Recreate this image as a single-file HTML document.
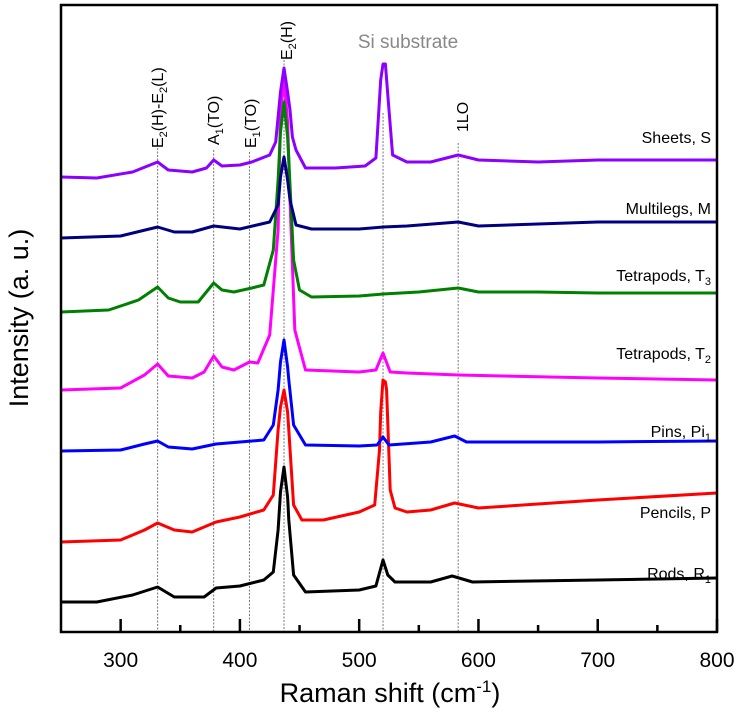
<!DOCTYPE html>
<html><head><meta charset="utf-8"><style>
html,body{margin:0;padding:0;background:#fff;}
svg{display:block;font-family:"Liberation Sans",Arial,sans-serif;}
</style></head><body>
<svg id="chart" width="745" height="723" viewBox="0 0 745 723" xmlns="http://www.w3.org/2000/svg"></svg>
<script>
// ---- data (Raman shift cm-1, intensity a.u.) ----
const xTicks = [300, 400, 500, 600, 700, 800];
const xMinor = [350, 450, 550, 650, 750];
const refLines = [331, 378, 408, 437, 520, 583];
const refTops = [484, 482, 480, 572, 519, 489];
const sheetsX = [250,280,310,331,340,360,372,378,385,400,410,425,430,434,437,440,442,444,447,455,480,505,514,518,520,522,525,528,540,560,583,600,650,700,750,800];
const sheetsY = [455,454,460,470,462,460,464,472,466,467,470,477,490,540,564,540,522,495,482,464,464,466,474,552,568,568,522,477,470,470,477,472,470,472,472,472];
const multiX = [250,300,331,345,360,378,400,425,432,434,437,440,442,447,460,500,520,540,583,600,700,800];
const multiY = [394,396,405,400,400,406,403,410,427,455,475,452,432,407,403,403,405,406,410,406,410,410];
const t3X = [250,290,315,331,340,350,365,378,385,395,410,420,428,432,434,437,440,441,445,450,460,500,520,550,583,600,650,700,800];
const t3Y = [320,322,332,345,334,330,330,349,342,340,344,347,382,452,500,530,495,472,372,342,335,336,338,340,344,340,340,339,339];
const t2X = [250,300,320,331,340,360,370,378,385,395,408,415,425,432,434,437,440,442,446,455,500,514,520,526,540,583,700,800];
const t2Y = [242,244,257,268,256,254,260,276,265,262,270,269,297,402,520,554,510,432,302,262,260,262,279,260,259,257,254,252];
const pinsX = [250,300,320,331,340,360,380,400,420,428,432,434,437,440,441,445,455,500,515,520,525,560,580,590,700,800];
const pinsY = [181,182,188,191,185,183,188,190,192,207,242,270,292,265,252,207,187,186,187,195,187,190,196,190,190,191];
const pencX = [250,300,320,331,345,360,380,400,420,428,432,434,437,440,441,445,452,470,500,513,517,518,520,522,523,526,530,540,560,580,600,700,800];
const pencY = [90,92,102,109,102,100,110,115,122,137,202,225,242,220,202,127,112,112,120,127,182,220,252,250,242,142,124,120,122,129,124,132,139];
const rodsX = [250,280,310,331,345,370,380,400,420,428,432,434,437,440,441,445,455,500,514,520,524,530,560,578,595,700,800];
const rodsY = [30,30,37,45,35,35,44,46,52,60,102,140,165,135,112,57,40,42,46,72,57,50,50,56,50,52,54];
const seriesColors = ['#8b00ff','#000080','#008000','#ff00ff','#0000ff','#ff0000','#000000'];
const seriesNames = ['sheets','multilegs','tetrapods-t3','tetrapods-t2','pins','pencils','rods'];

const L=61, R=717, T=5, B=632;
const xs = v => L + (v-250)/(800-250)*(R-L);
const ys = v => B - v;
const NS='http://www.w3.org/2000/svg';
const svg=document.getElementById('chart');
function mk(tag, attrs, parent){const e=document.createElementNS(NS,tag);for(const k in attrs)e.setAttribute(k,attrs[k]);(parent||svg).appendChild(e);return e;}

refLines.forEach((v,i)=>{
  const l=mk('line',{x1:xs(v),x2:xs(v),y1:ys(refTops[i]),y2:B,stroke:'#777','stroke-width':1,'stroke-dasharray':'2,1.5'});
  
  
});

const allX=[sheetsX,multiX,t3X,t2X,pinsX,pencX,rodsX];
const allY=[sheetsY,multiY,t3Y,t2Y,pinsY,pencY,rodsY];
for(let s=6;s>=0;s--){
  const d=allX[s].map((x,i)=>(i?'L':'M')+xs(x).toFixed(1)+','+ys(allY[s][i]).toFixed(1)).join(' ');
  const p=mk('path',{d:d,fill:'none',stroke:seriesColors[s],'stroke-width':3,'stroke-linejoin':'round'});
  
  
}

const fr=mk('rect',{x:L,y:T,width:R-L,height:B-T,fill:'none',stroke:'#000','stroke-width':2.5});



xTicks.forEach(v=>{
  const t=mk('line',{x1:xs(v),x2:xs(v),y1:B,y2:B-13,stroke:'#000','stroke-width':2.5});
  
  
  const lb=mk('text',{x:xs(v),y:667,'font-size':21,'text-anchor':'middle',fill:'#000'});
  lb.textContent=v;
  
  
});
xMinor.forEach(v=>{
  const t=mk('line',{x1:xs(v),x2:xs(v),y1:B,y2:B-7,stroke:'#000','stroke-width':2.5});
  
  
});
</script>
<svg style="position:absolute;left:0;top:0" width="745" height="723" xmlns="http://www.w3.org/2000/svg" font-family="Liberation Sans, Arial, sans-serif">
  <text x="390" y="702" font-size="27" text-anchor="middle">Raman shift (cm<tspan dy="-10" font-size="17">-1</tspan><tspan dy="10">)</tspan></text>
  <text transform="translate(28,318) rotate(-90)" font-size="27" text-anchor="middle">Intensity (a. u.)</text>
  <text x="408" y="48" font-size="19" fill="#888" text-anchor="middle">Si substrate</text>
  <text transform="translate(163,148) rotate(-90)" font-size="16">E<tspan font-size="11" dy="4">2</tspan><tspan dy="-4">(H)-E</tspan><tspan font-size="11" dy="4">2</tspan><tspan dy="-4">(L)</tspan></text>
  <text transform="translate(219,145) rotate(-90)" font-size="16">A<tspan font-size="11" dy="4">1</tspan><tspan dy="-4">(TO)</tspan></text>
  <text transform="translate(256,148) rotate(-90)" font-size="16">E<tspan font-size="11" dy="4">1</tspan><tspan dy="-4">(TO)</tspan></text>
  <text transform="translate(292,60) rotate(-90)" font-size="16">E<tspan font-size="11" dy="4">2</tspan><tspan dy="-4">(H)</tspan></text>
  <text transform="translate(468,132) rotate(-90)" font-size="16">1LO</text>
  <g font-size="16" text-anchor="end">
    <text x="711" y="143">Sheets, S</text>
    <text x="711" y="214">Multilegs, M</text>
    <text x="711" y="281">Tetrapods, T<tspan font-size="11" dy="4">3</tspan></text>
    <text x="711" y="359">Tetrapods, T<tspan font-size="11" dy="4">2</tspan></text>
    <text x="711" y="437">Pins, Pi<tspan font-size="11" dy="4">1</tspan></text>
    <text x="711" y="518">Pencils, P</text>
    <text x="711" y="579">Rods, R<tspan font-size="11" dy="4">1</tspan></text>
  </g>
</svg>
</body></html>
